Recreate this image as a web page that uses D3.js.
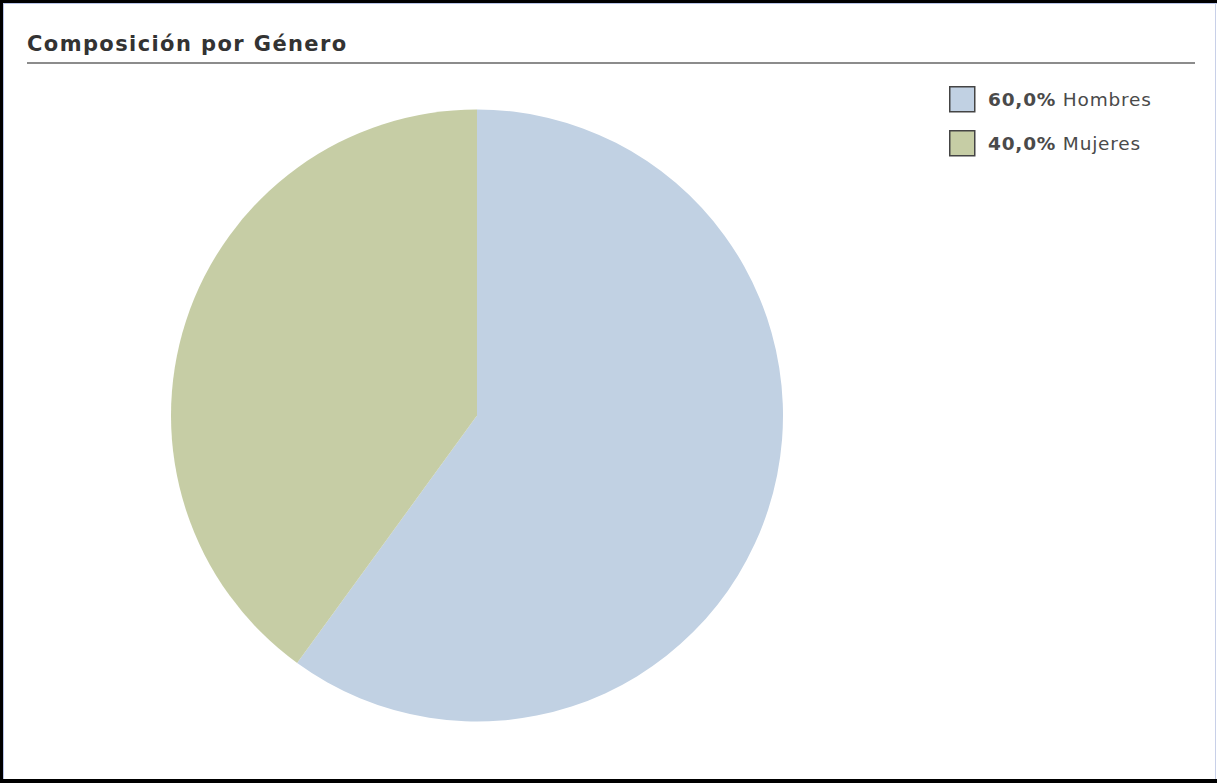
<!DOCTYPE html>
<html>
<head>
<meta charset="utf-8">
<script src="https://cdn.jsdelivr.net/npm/d3@7"></script>
<style>
  html, body { margin: 0; padding: 0; background: #fff; overflow: hidden; }
  svg { display: block; }
</style>
</head>
<body>
<svg id="chart" width="1217" height="783"></svg>
<script>
// Gender composition data
const categories = ["Hombres", "Mujeres"];
const values = [60.0, 40.0];
const colors = ["#C1D1E3", "#C6CDA5"];
const title = "Composición por Género";

const W = 1217, H = 783;
const svg = d3.select("#chart");

// Frame: dark outer border with a thin light-blue inner edge
svg.append("rect").attr("x", 0).attr("y", 0).attr("width", W).attr("height", H).attr("fill", "#fff");
svg.append("rect").attr("x", 0).attr("y", 0).attr("width", W).attr("height", 3).attr("fill", "#000");
svg.append("rect").attr("x", 0).attr("y", 0).attr("width", 3).attr("height", H).attr("fill", "#000");
svg.append("rect").attr("x", 0).attr("y", H - 4).attr("width", W).attr("height", 4).attr("fill", "#000");
svg.append("rect").attr("x", 3).attr("y", 3).attr("width", W - 3).attr("height", 1).attr("fill", "#B8C4E8");
svg.append("rect").attr("x", 3).attr("y", 3).attr("width", 1).attr("height", H - 7).attr("fill", "#B8C4E8");
svg.append("rect").attr("x", W - 2).attr("y", 3).attr("width", 1).attr("height", H - 7).attr("fill", "#C8D0E8");

// Title and underline
svg.append("text")
  .attr("x", 27).attr("y", 51)
  .attr("font-family", "DejaVu Sans, Verdana, sans-serif")
  .attr("font-weight", "bold")
  .attr("font-size", 21)
  .attr("letter-spacing", 1.4)
  .attr("fill", "#333")
  .text(title);
svg.append("rect").attr("x", 27).attr("y", 62).attr("width", 1168).attr("height", 2).attr("fill", "#8C8C8C");

// Pie, starting at 12 o'clock and running clockwise
const cx = 477, cy = 415.5, r = 306;
const pie = d3.pie().sort(null).value(d => d.value);
const arc = d3.arc().innerRadius(0).outerRadius(r);
const data = categories.map((c, i) => ({ name: c, value: values[i], color: colors[i] }));

svg.append("g")
  .attr("transform", `translate(${cx},${cy})`)
  .selectAll("path")
  .data(pie(data))
  .join("path")
  .attr("d", arc)
  .attr("fill", d => d.data.color);

// Legend
const fmt = v => d3.format(".1f")(v).replace(".", ",") + "%";
const legend = svg.append("g").attr("transform", "translate(949,86)");
const rows = legend.selectAll("g")
  .data(data)
  .join("g")
  .attr("transform", (d, i) => `translate(0,${i * 44})`);
rows.append("rect")
  .attr("x", 0.75).attr("y", 0.75)
  .attr("width", 25).attr("height", 25)
  .attr("fill", d => d.color)
  .attr("stroke", "#444")
  .attr("stroke-width", 1.5);
const lt = rows.append("text")
  .attr("x", 39).attr("y", 20)
  .attr("font-family", "DejaVu Sans, Verdana, sans-serif")
  .attr("font-size", 18.5)
  .attr("letter-spacing", 0.8)
  .attr("fill", "#4a4a4a");
lt.append("tspan").attr("font-weight", "bold").text(d => fmt(d.value));
lt.append("tspan").text(d => " " + d.name);
</script>
</body>
</html>
